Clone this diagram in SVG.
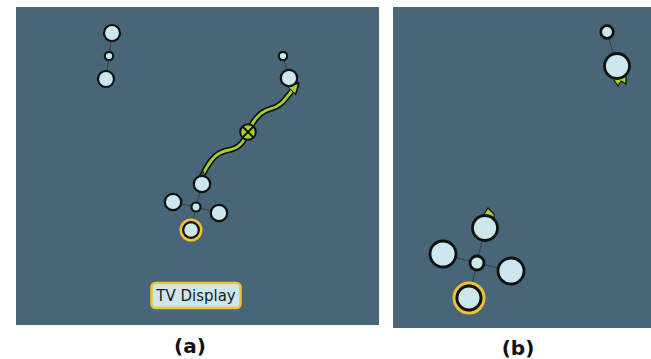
<svg xmlns="http://www.w3.org/2000/svg" width="651" height="359" viewBox="0 0 651 359">
<defs>
<style>
.panel{fill:#476779}
.n{fill:#cde8ec;stroke:#111;stroke-width:2.2}
.nb{fill:#cde8ec;stroke:#111;stroke-width:2.8}
.l{stroke:#3a3f40;stroke-width:1;fill:none}
.ring{fill:none;stroke:#f2c12e;stroke-width:3}
.cap{font-family:"DejaVu Sans",sans-serif;font-weight:bold;font-size:20px;fill:#111;text-anchor:middle}
.lbl{font-family:"DejaVu Sans",sans-serif;font-size:15px;fill:#1a1a1a;text-anchor:middle}
.g{fill:#a9cf2a;stroke:#111;stroke-width:1.2}
</style>
<marker id="ah" viewBox="0 0 10 10" refX="6" refY="5" markerWidth="4" markerHeight="4" orient="auto">
<path d="M0,0 L10,5 L0,10 z" fill="#a9cf2a" stroke="#111" stroke-width="1.5"/>
</marker>
</defs>
<rect x="0" y="0" width="651" height="359" fill="#ffffff"/>
<rect class="panel" x="16" y="7" width="363" height="318"/>
<rect class="panel" x="393" y="7" width="258" height="321"/>

<g id="connectors">
<line class="l" x1="112" y1="33" x2="109" y2="56"/>
<line class="l" x1="109" y1="56" x2="106" y2="79"/>
<line class="l" x1="283" y1="56" x2="289" y2="78"/>
<line class="l" x1="196" y1="207" x2="202" y2="184"/>
<line class="l" x1="196" y1="207" x2="173" y2="202"/>
<line class="l" x1="196" y1="207" x2="219" y2="213"/>
<line class="l" x1="196" y1="207" x2="191" y2="230"/>
<line class="l" x1="607" y1="32" x2="617" y2="66"/>
<line class="l" x1="477" y1="263" x2="485" y2="228"/>
<line class="l" x1="477" y1="263" x2="443" y2="254"/>
<line class="l" x1="477" y1="263" x2="511" y2="271"/>
<line class="l" x1="477" y1="263" x2="469" y2="298"/>
<path d="M202,176 C211,158 217,152 229,150 C240,148 244,141 248,132 C252,123 258,112 270,109 C283,106 286,97 296,86" fill="none" stroke="#111" stroke-width="6" stroke-linecap="round"/>
<path d="M202,176 C211,158 217,152 229,150 C240,148 244,141 248,132 C252,123 258,112 270,109 C283,106 286,97 296,86" fill="none" stroke="#a9cf2a" stroke-width="2.8" marker-end="url(#ah)"/>
<path d="M199,178 L203,171 L206,178 z" fill="#556b10" stroke="#111" stroke-width="0.8"/>
</g>

<g id="a1"><circle class="n" cx="112" cy="33" r="8"/></g>
<g id="a2"><circle class="n" cx="109" cy="56" r="4.2"/></g>
<g id="a3"><circle class="n" cx="106" cy="79" r="8"/></g>
<g id="a4"><circle class="n" cx="283" cy="56" r="4.2"/></g>
<g id="a5"><circle class="n" cx="289" cy="78" r="8.2"/></g>
<g id="a6">
<circle cx="248" cy="132" r="7.8" fill="#a9cf2a" stroke="#111" stroke-width="2"/>
<path d="M243,127 L253,137 M253,127 L243,137" stroke="#111" stroke-width="1.8"/>
</g>
<g id="a7"><circle class="n" cx="202" cy="184" r="8.2"/></g>
<g id="a8"><circle class="n" cx="173" cy="202" r="8.2"/></g>
<g id="a9"><circle class="n" cx="196" cy="207" r="4.5"/></g>
<g id="a10"><circle class="n" cx="219" cy="213" r="8.2"/></g>
<g id="a11"><circle class="ring" cx="191" cy="230" r="10"/><circle class="n" cx="191" cy="230" r="7.8"/></g>
<g id="tv">
<rect x="151.5" y="283" width="89" height="25" rx="4" fill="#cde8ec" stroke="#f2c12e" stroke-width="2.5"/>
<text class="lbl" x="196" y="301">TV Display</text>
</g>

<g id="b1"><circle class="nb" cx="607" cy="32" r="6.3"/></g>
<g id="b2">
<path d="M614,74 L626,74 L626,84 L621,81 L618,86 L614,80 z" class="g"/>
<circle class="nb" cx="617" cy="66" r="12.5"/>
</g>
<g id="b3">
<path d="M482,217 L488,208 L494,214 L494,222 L482,222 z" class="g"/>
<circle class="nb" cx="485" cy="228" r="12.5"/>
</g>
<g id="b4"><circle class="nb" cx="443" cy="254" r="13"/></g>
<g id="b5"><circle class="nb" cx="477" cy="263" r="7"/></g>
<g id="b6"><circle class="nb" cx="511" cy="271" r="13"/></g>
<g id="b7"><circle class="ring" cx="469" cy="298" r="15"/><circle class="nb" cx="469" cy="298" r="12"/></g>

<text class="cap" x="190" y="353">(a)</text>
<text class="cap" x="518" y="355">(b)</text>
</svg>
